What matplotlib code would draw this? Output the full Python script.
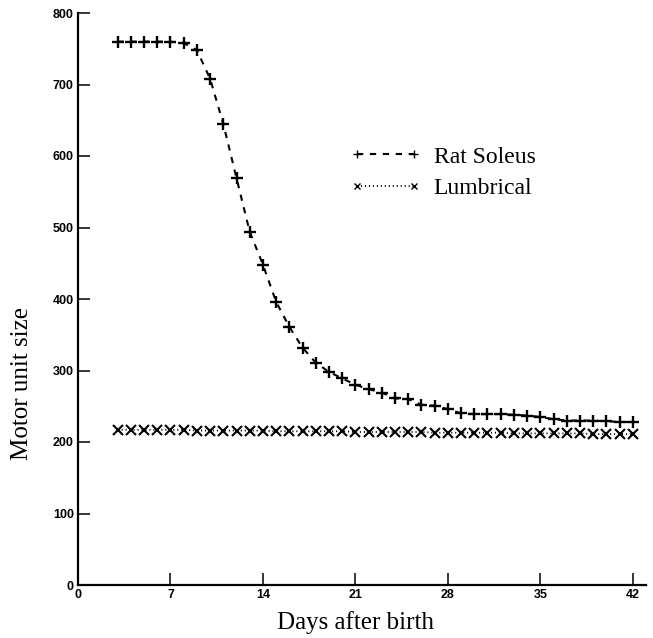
import matplotlib
matplotlib.use("Agg")
import matplotlib.pyplot as plt

days = list(range(3, 43))
rat_soleus = [760, 760, 760, 760, 760, 758, 748, 708, 645, 569,
              494, 448, 396, 361, 332, 311, 298, 289, 280, 274,
              269, 261, 260, 252, 251, 246, 240, 239, 239, 239,
              238, 237, 235, 232, 230, 230, 230, 229, 228, 228]
lumbrical = [217, 217, 217, 217, 217, 217, 216, 216, 216, 216,
             216, 216, 215, 215, 215, 215, 215, 215, 214, 214,
             214, 214, 214, 214, 213, 213, 213, 213, 213, 213,
             212, 212, 212, 212, 212, 212, 211, 211, 211, 211]
xticks = [0, 7, 14, 21, 28, 35, 42]
yticks = [0, 100, 200, 300, 400, 500, 600, 700, 800]

serif = "Liberation Serif"
sans = "Liberation Sans"

fig = plt.figure(figsize=(6.53, 6.38), dpi=100)
ax = fig.add_axes([78 / 653, 1 - 585 / 638, (646 - 78) / 653, (585 - 13) / 638])

ax.plot(days, rat_soleus, color="black", lw=1.5, linestyle=(0, (3, 3.2)),
        marker="+", markersize=8.5, markeredgewidth=1.7, label="Rat Soleus")
ax.plot(days, lumbrical, color="black", lw=1.3, linestyle=(0, (0.6, 1.6)),
        marker="x", markersize=7.5, markeredgewidth=1.5, label="Lumbrical")

ax.set_xlim(0, 43)
ax.set_ylim(0, 800)
ax.set_xticks(xticks)
ax.set_yticks(yticks)
for s in ["top", "right"]:
    ax.spines[s].set_visible(False)
for s in ["left", "bottom"]:
    ax.spines[s].set_linewidth(1.6)
ax.tick_params(direction="in", length=8.5, width=1.1, pad=3)
for lab in ax.get_xticklabels() + ax.get_yticklabels():
    lab.set_fontfamily(sans)
    lab.set_fontweight("bold")
    lab.set_fontsize(9)

leg = ax.legend(loc="upper left", bbox_to_anchor=((350 - 78) / 568, 1 - (146 - 13) / 572),
                frameon=False, prop={"family": serif, "size": 17},
                handlelength=3.0, handletextpad=0.55, labelspacing=0.42,
                markerscale=0.6, numpoints=2, borderaxespad=0, borderpad=0)
for h in leg.legend_handles:
    h.set_markeredgewidth(1.0)

fig.text(356 / 653, 1 - 629 / 638, "Days after birth", family=serif, fontsize=18,
         ha="center", va="baseline")
fig.text(22 / 653, 1 - 383 / 638, "Motor unit size", family=serif, fontsize=18,
         ha="center", va="center", rotation=90)

fig.savefig("out.png", dpi=100)
